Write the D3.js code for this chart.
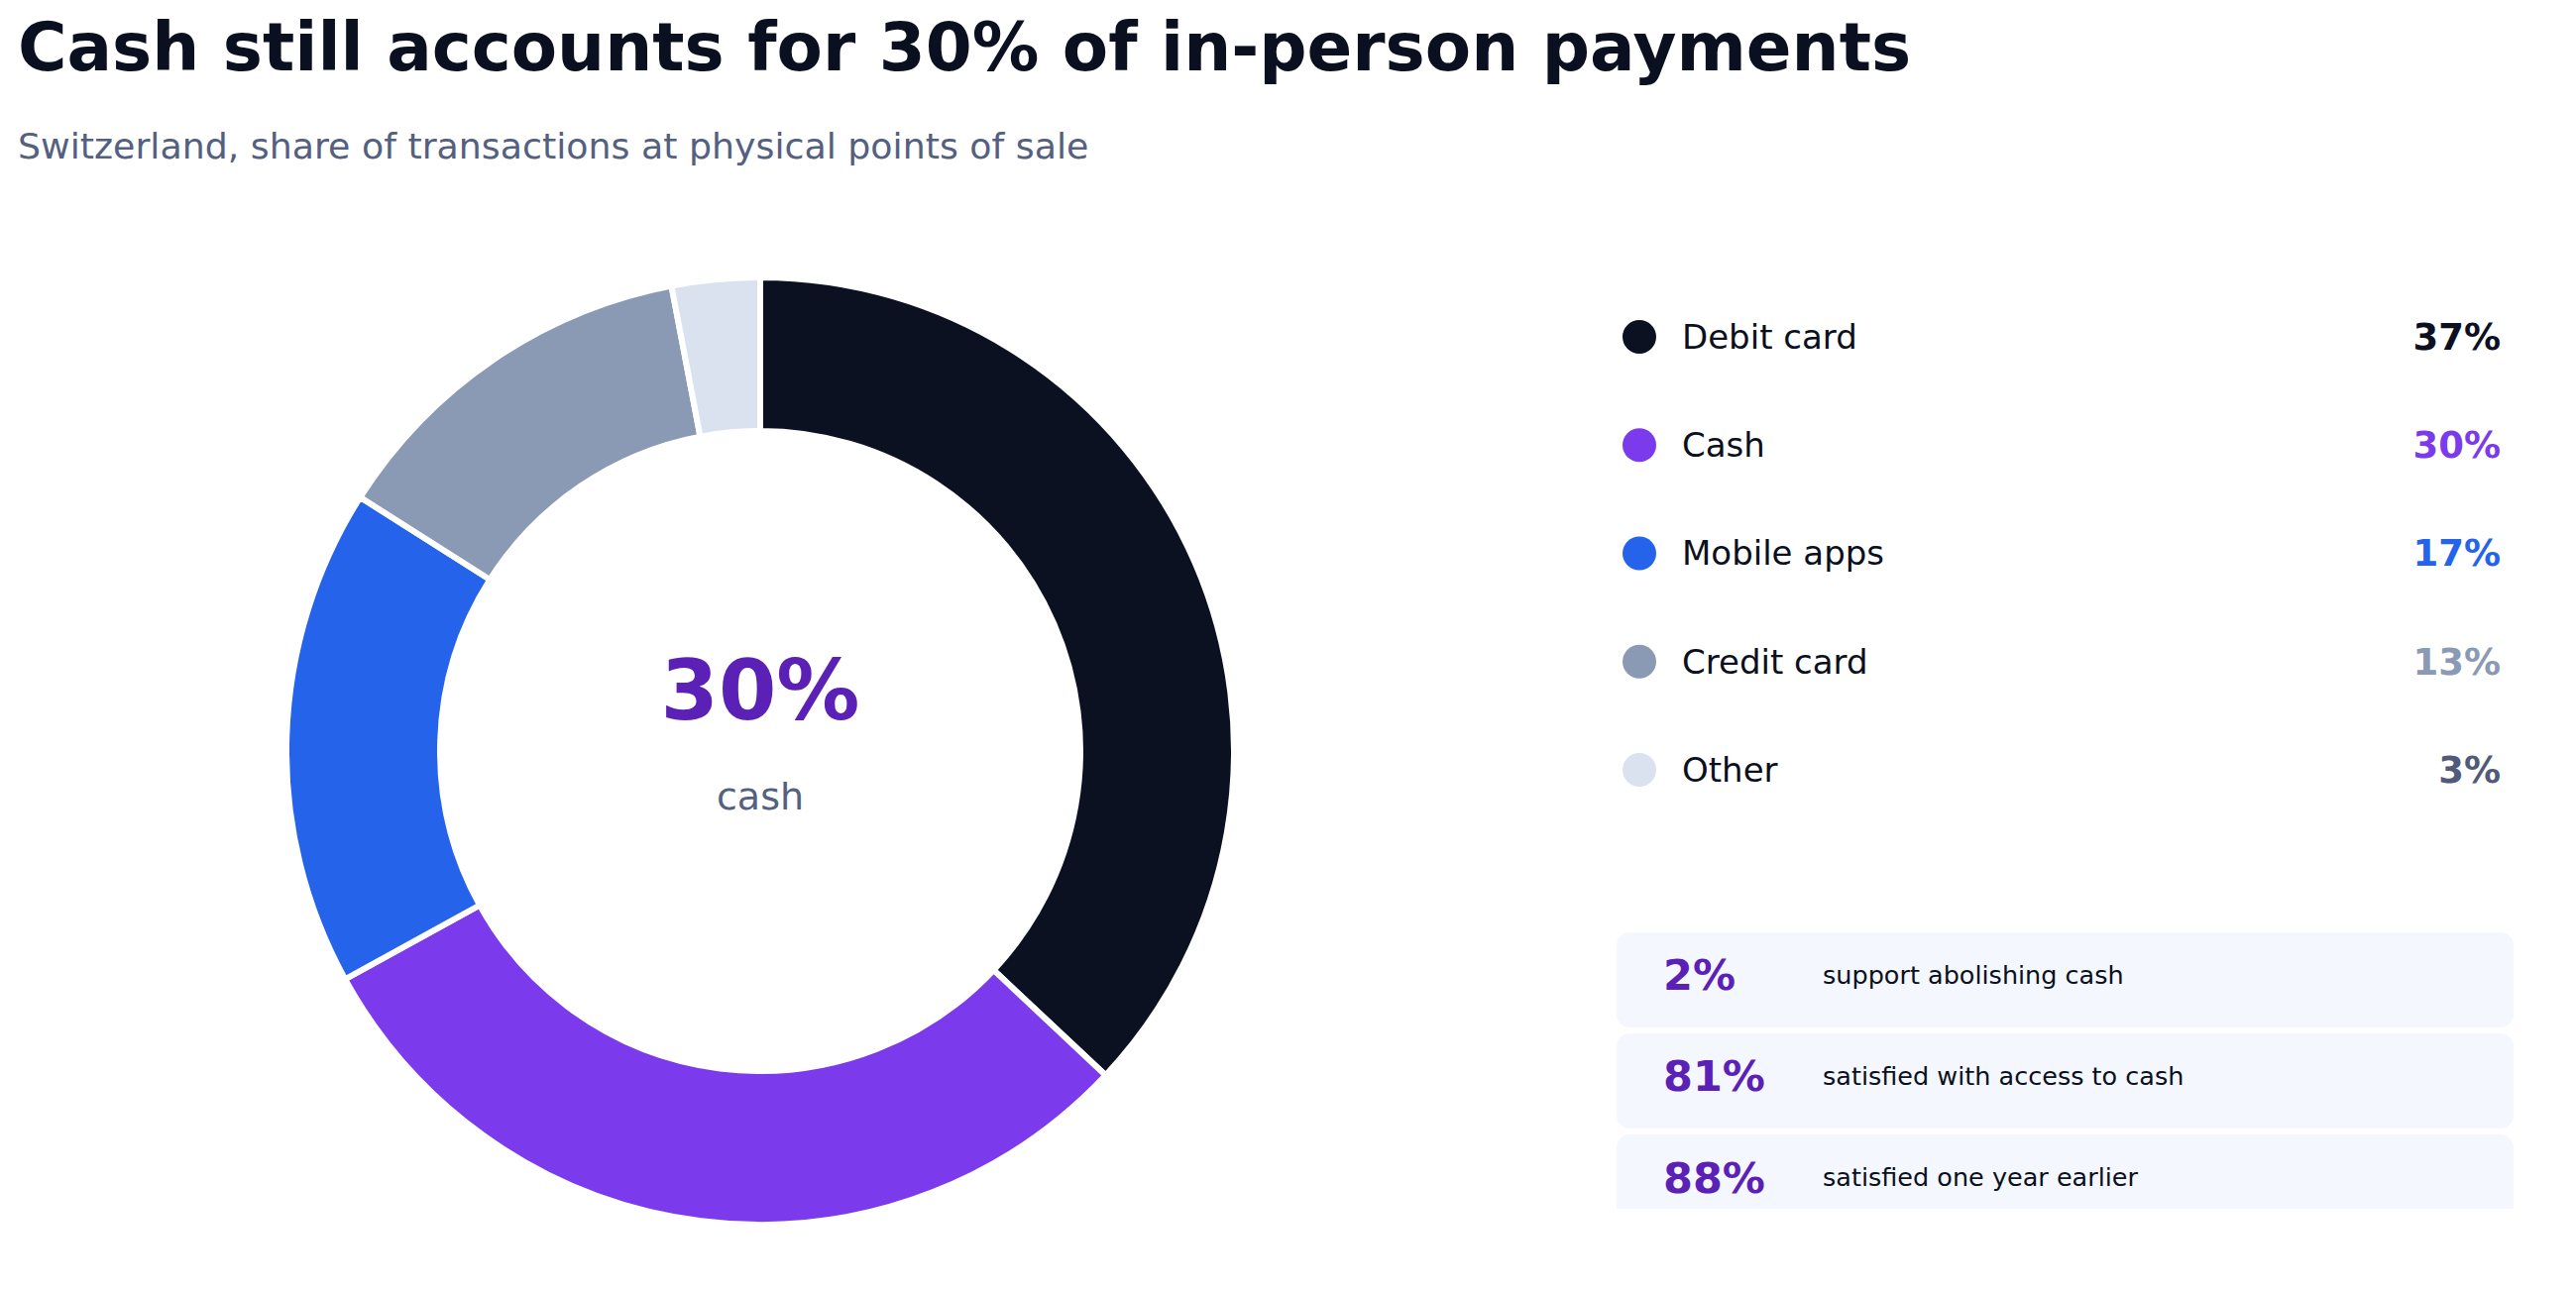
<!DOCTYPE html>
<html>
<head>
<meta charset="utf-8">
<script src="https://cdn.jsdelivr.net/npm/d3@7"></script>
<style>
  body { margin: 0; background: #fff; }
  svg { display: block; font-family: "DejaVu Sans", sans-serif; }
</style>
</head>
<body>
<svg id="chart" width="2599" height="1303"></svg>
<script>
// payment methods, share of in-person transactions (%)
const methods = ["Debit card", "Cash", "Mobile apps", "Credit card", "Other"];
const shares = [37, 30, 17, 13, 3];
const sliceColors = ["#0c1121", "#7c3aed", "#2563eb", "#8a99b4", "#dae1ef"];
const valueColors = ["#0c1121", "#7c3aed", "#2563eb", "#8a99b4", "#4f5b79"];

// survey facts shown in the boxes
const statValues = ["2%", "81%", "88%"];
const statLabels = ["support abolishing cash", "satisfied with access to cash", "satisfied one year earlier"];

const svg = d3.select("#chart");

svg.append("text")
  .attr("x", 18).attr("y", 71)
  .attr("font-size", 67.5).attr("font-weight", "bold")
  .attr("fill", "#0b1020")
  .text("Cash still accounts for 30% of in-person payments");

svg.append("text")
  .attr("x", 18).attr("y", 160)
  .attr("font-size", 36.3)
  .attr("fill", "#536080")
  .text("Switzerland, share of transactions at physical points of sale");

// donut
const cx = 767, cy = 758, outerR = 478, innerR = 323;
const pie = d3.pie().sort(null).value(d => d);
const arc = d3.arc().innerRadius(innerR).outerRadius(outerR);

const donut = svg.append("g").attr("transform", `translate(${cx},${cy})`);
donut.selectAll("path")
  .data(pie(shares))
  .join("path")
  .attr("d", arc)
  .attr("fill", (d, i) => sliceColors[i])
  .attr("stroke", "#fff")
  .attr("stroke-width", 6)
  .attr("stroke-linejoin", "miter");

const cashIdx = methods.indexOf("Cash");
donut.append("text")
  .attr("y", -32)
  .attr("text-anchor", "middle")
  .attr("font-size", 84).attr("font-weight", "bold")
  .attr("fill", "#5b21b6")
  .text(shares[cashIdx] + "%");

donut.append("text")
  .attr("y", 59)
  .attr("text-anchor", "middle")
  .attr("font-size", 38)
  .attr("fill", "#536080")
  .text("cash");

// legend
const rowY = d3.scalePoint().domain(methods).range([340, 777]);
const legend = svg.append("g");
const rows = legend.selectAll("g")
  .data(methods)
  .join("g")
  .attr("transform", d => `translate(0,${rowY(d)})`);

rows.append("circle")
  .attr("cx", 1654).attr("r", 17)
  .attr("fill", (d, i) => sliceColors[i]);

rows.append("text")
  .attr("x", 1697).attr("dy", "0.35em")
  .attr("font-size", 34)
  .attr("fill", "#0b1020")
  .text(d => d);

rows.append("text")
  .attr("x", 2523).attr("dy", "0.35em")
  .attr("text-anchor", "end")
  .attr("font-size", 37).attr("font-weight", "bold")
  .attr("fill", (d, i) => valueColors[i])
  .text((d, i) => shares[i] + "%");

// stat boxes, last one is cut off by the panel bottom
svg.append("clipPath").attr("id", "panel")
  .append("rect").attr("x", 1600).attr("y", 900).attr("width", 999).attr("height", 320);

const boxY = d3.scaleBand().domain(statLabels).range([941, 1241]).paddingInner(0.06);
const boxes = svg.append("g").attr("clip-path", "url(#panel)")
  .selectAll("g")
  .data(statLabels)
  .join("g")
  .attr("transform", d => `translate(1631,${boxY(d)})`);

boxes.append("rect")
  .attr("width", 905).attr("height", boxY.bandwidth())
  .attr("rx", 13)
  .attr("fill", "#f4f7fe");

boxes.append("text")
  .attr("x", 47).attr("y", boxY.bandwidth() / 2 - 5).attr("dy", "0.36em")
  .attr("font-size", 43).attr("font-weight", "bold")
  .attr("fill", "#5b21b6")
  .text((d, i) => statValues[i]);

boxes.append("text")
  .attr("x", 208).attr("y", boxY.bandwidth() / 2 - 5).attr("dy", "0.35em")
  .attr("font-size", 25.5)
  .attr("fill", "#0b1020")
  .text(d => d);
</script>
</body>
</html>
